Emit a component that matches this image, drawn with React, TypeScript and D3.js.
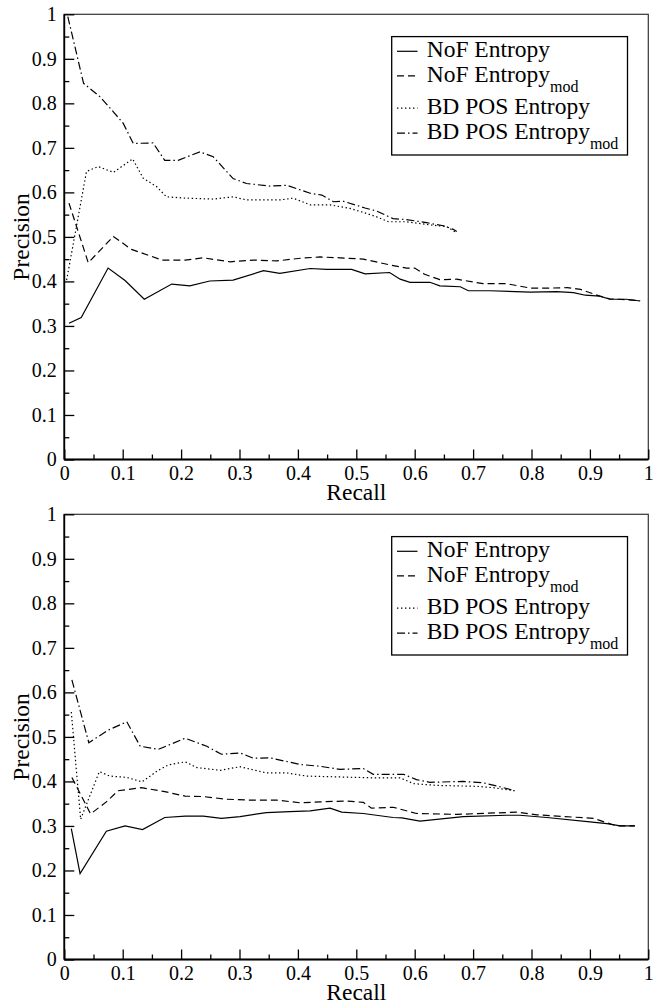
import { useEffect, useRef } from 'react';
import * as d3 from 'd3';

type Pt = [number, number];

// recall / precision pairs, upper panel
const topNof: Pt[] = [[0.008, 0.306], [0.029, 0.319], [0.075, 0.430], [0.104, 0.402], [0.137, 0.360], [0.184, 0.394], [0.215, 0.390], [0.249, 0.401], [0.289, 0.403], [0.341, 0.424], [0.369, 0.418], [0.421, 0.429], [0.449, 0.427], [0.492, 0.427], [0.515, 0.417], [0.557, 0.420], [0.575, 0.405], [0.592, 0.398], [0.626, 0.398], [0.643, 0.390], [0.678, 0.388], [0.692, 0.379], [0.729, 0.379], [0.798, 0.376], [0.843, 0.377], [0.872, 0.375], [0.892, 0.369], [0.917, 0.367], [0.934, 0.360], [0.963, 0.360], [0.986, 0.356]];
const topNofMod: Pt[] = [[0.008, 0.576], [0.041, 0.442], [0.084, 0.501], [0.115, 0.472], [0.150, 0.456], [0.167, 0.448], [0.207, 0.448], [0.238, 0.453], [0.284, 0.444], [0.324, 0.448], [0.364, 0.446], [0.404, 0.452], [0.438, 0.455], [0.472, 0.453], [0.512, 0.450], [0.558, 0.437], [0.586, 0.430], [0.600, 0.430], [0.617, 0.416], [0.643, 0.404], [0.672, 0.405], [0.717, 0.395], [0.757, 0.395], [0.798, 0.385], [0.832, 0.385], [0.861, 0.386], [0.884, 0.382], [0.917, 0.367], [0.934, 0.361], [0.986, 0.357]];
const topPos: Pt[] = [[0.004, 0.403], [0.038, 0.647], [0.058, 0.658], [0.084, 0.645], [0.117, 0.675], [0.135, 0.632], [0.158, 0.613], [0.175, 0.590], [0.209, 0.587], [0.255, 0.585], [0.289, 0.590], [0.312, 0.583], [0.369, 0.583], [0.392, 0.587], [0.421, 0.572], [0.455, 0.572], [0.489, 0.564], [0.512, 0.555], [0.535, 0.545], [0.555, 0.534], [0.586, 0.534], [0.626, 0.527], [0.655, 0.523], [0.672, 0.509]];
const topPosMod: Pt[] = [[0.006, 0.995], [0.033, 0.845], [0.061, 0.815], [0.084, 0.781], [0.101, 0.755], [0.118, 0.710], [0.152, 0.711], [0.172, 0.672], [0.195, 0.672], [0.232, 0.691], [0.255, 0.680], [0.289, 0.631], [0.312, 0.620], [0.352, 0.614], [0.381, 0.616], [0.421, 0.598], [0.441, 0.594], [0.461, 0.579], [0.478, 0.580], [0.515, 0.565], [0.535, 0.558], [0.563, 0.541], [0.586, 0.539], [0.620, 0.532], [0.649, 0.525], [0.666, 0.517], [0.672, 0.512]];

// lower panel
const botNof: Pt[] = [[0.012, 0.294], [0.027, 0.193], [0.072, 0.288], [0.104, 0.300], [0.134, 0.292], [0.172, 0.319], [0.207, 0.322], [0.238, 0.322], [0.269, 0.317], [0.301, 0.321], [0.346, 0.330], [0.386, 0.332], [0.421, 0.334], [0.455, 0.340], [0.475, 0.331], [0.512, 0.328], [0.563, 0.319], [0.578, 0.318], [0.609, 0.311], [0.683, 0.321], [0.757, 0.324], [0.780, 0.324], [0.826, 0.319], [0.900, 0.309], [0.929, 0.305], [0.952, 0.300], [0.977, 0.300]];
const botNofMod: Pt[] = [[0.013, 0.409], [0.045, 0.327], [0.072, 0.354], [0.092, 0.379], [0.132, 0.386], [0.172, 0.377], [0.207, 0.367], [0.238, 0.366], [0.278, 0.360], [0.318, 0.358], [0.364, 0.358], [0.404, 0.352], [0.438, 0.354], [0.483, 0.356], [0.512, 0.353], [0.526, 0.340], [0.563, 0.342], [0.603, 0.328], [0.672, 0.326], [0.775, 0.331], [0.809, 0.325], [0.906, 0.317], [0.946, 0.300], [0.977, 0.300]];
const botPos: Pt[] = [[0.012, 0.556], [0.028, 0.315], [0.060, 0.422], [0.078, 0.412], [0.107, 0.409], [0.133, 0.399], [0.161, 0.425], [0.178, 0.437], [0.207, 0.444], [0.227, 0.431], [0.267, 0.425], [0.301, 0.433], [0.346, 0.419], [0.381, 0.419], [0.415, 0.412], [0.472, 0.410], [0.529, 0.408], [0.575, 0.408], [0.598, 0.395], [0.638, 0.391], [0.706, 0.389], [0.734, 0.386], [0.771, 0.379]];
const botPosMod: Pt[] = [[0.013, 0.628], [0.042, 0.487], [0.075, 0.515], [0.107, 0.534], [0.130, 0.479], [0.161, 0.472], [0.207, 0.497], [0.244, 0.479], [0.269, 0.461], [0.301, 0.464], [0.324, 0.452], [0.352, 0.453], [0.404, 0.438], [0.438, 0.434], [0.472, 0.427], [0.512, 0.429], [0.529, 0.416], [0.581, 0.416], [0.603, 0.404], [0.626, 0.398], [0.683, 0.400], [0.717, 0.397], [0.752, 0.386], [0.771, 0.379]];

const seriesNames = ['NoF Entropy', 'NoF Entropy', 'BD POS Entropy', 'BD POS Entropy'];
const seriesSubs = ['', 'mod', '', 'mod'];
const dashes = ['none', '7,4', '1.4,2.6', '8,3,1.5,3'];

const tickValues = [0, 0.1, 0.2, 0.3, 0.4, 0.5, 0.6, 0.7, 0.8, 0.9, 1];
const tickLabels = ['0', '0.1', '0.2', '0.3', '0.4', '0.5', '0.6', '0.7', '0.8', '0.9', '1'];
const minorTicks = [0.05, 0.15, 0.25, 0.35, 0.45, 0.55, 0.65, 0.75, 0.85, 0.95];

const panels = [
    { top: 14.3, series: [topNof, topNofMod, topPos, topPosMod] },
    { top: 514.3, series: [botNof, botNofMod, botPos, botPosMod] },
];

const FONT = '"Liberation Serif", "Times New Roman", serif';

const App = () => {
    const svgRef = useRef<SVGSVGElement>(null);

    useEffect(() => {
        if (!svgRef.current) return;
        const root = d3.select(svgRef.current);
        root.selectAll('*').remove();

        const left = 64.3;
        const width = 584;
        const height = 445.2;

        const x = d3.scaleLinear().domain([0, 1]).range([0, width]);
        const y = d3.scaleLinear().domain([0, 1]).range([height, 0]);
        const fmt = (d: d3.NumberValue) => tickLabels[tickValues.indexOf(+d)] ?? '';

        panels.forEach(panel => {
            const g = root.append('g').attr('transform', `translate(${left},${panel.top})`);

            // frame
            g.append('rect')
                .attr('width', width)
                .attr('height', height)
                .attr('fill', 'none')
                .attr('stroke', '#333')
                .attr('stroke-width', 1.2);

            // series
            const line = d3.line<Pt>().x(d => x(d[0])).y(d => y(d[1]));
            panel.series.forEach((s, i) => {
                g.append('path')
                    .datum(s)
                    .attr('fill', 'none')
                    .attr('stroke', '#000')
                    .attr('stroke-width', 1.2)
                    .attr('stroke-dasharray', dashes[i])
                    .attr('d', line);
            });

            // x axis, ticks inward
            const xa = g.append('g')
                .attr('transform', `translate(0,${height})`)
                .call(d3.axisBottom(x).tickValues(tickValues).tickSize(-10).tickPadding(6.3).tickFormat(fmt));
            g.append('g')
                .attr('transform', `translate(0,${height})`)
                .call(d3.axisBottom(x).tickValues(minorTicks).tickSize(-5).tickFormat(() => ''));

            // y axis
            const ya = g.append('g')
                .call(d3.axisLeft(y).tickValues(tickValues).tickSize(-10).tickPadding(7.5).tickFormat(fmt));
            g.append('g')
                .call(d3.axisLeft(y).tickValues(minorTicks).tickSize(-5).tickFormat(() => ''));

            g.selectAll('.domain').remove();
            g.selectAll('.tick line').attr('stroke', '#000').attr('stroke-width', 1.3);
            [xa, ya].forEach(a => a.selectAll('text')
                .attr('font-family', FONT)
                .attr('font-size', 20)
                .attr('fill', '#000'));

            g.append('line').attr('x1', 0).attr('x2', 0).attr('y1', 0).attr('y2', height)
                .attr('stroke', '#000').attr('stroke-width', 1.8);
            g.append('line').attr('x1', 0).attr('x2', width).attr('y1', height).attr('y2', height)
                .attr('stroke', '#000').attr('stroke-width', 1.8);

            // axis titles
            g.append('text')
                .attr('x', x(0.5))
                .attr('y', height + 40.5)
                .attr('text-anchor', 'middle')
                .attr('font-family', FONT)
                .attr('font-size', 23.5)
                .text('Recall');
            g.append('text')
                .attr('transform', `translate(${29 - left},${y(0.5)}) rotate(-90)`)
                .attr('text-anchor', 'middle')
                .attr('font-family', FONT)
                .attr('font-size', 23.5)
                .text('Precision');

            // legend
            const lg = g.append('g').attr('transform', `translate(${391.7 - left},${36.6 - 14.3})`);
            lg.append('rect')
                .attr('width', 235.8)
                .attr('height', 118.4)
                .attr('fill', '#fff')
                .attr('stroke', '#000')
                .attr('stroke-width', 1.3);
            const baselines = [20.7, 45.3, 77.5, 102.5];
            seriesNames.forEach((name, i) => {
                lg.append('line')
                    .attr('x1', 5.3).attr('x2', 25.8)
                    .attr('y1', baselines[i] - 6).attr('y2', baselines[i] - 6)
                    .attr('stroke', '#000')
                    .attr('stroke-width', 1.2)
                    .attr('stroke-dasharray', dashes[i]);
                const t = lg.append('text')
                    .attr('x', 35)
                    .attr('y', baselines[i])
                    .attr('font-family', FONT)
                    .attr('font-size', 23.5)
                    .text(name);
                if (seriesSubs[i]) {
                    t.append('tspan')
                        .attr('dy', 10)
                        .attr('font-size', 16)
                        .text(seriesSubs[i]);
                }
            });
        });
    }, []);

    return (
        <svg
            ref={svgRef}
            width={664}
            height={1003}
            style={{ position: 'absolute', left: 0, top: 0, background: '#fff' }}
        />
    );
};

export default App;
